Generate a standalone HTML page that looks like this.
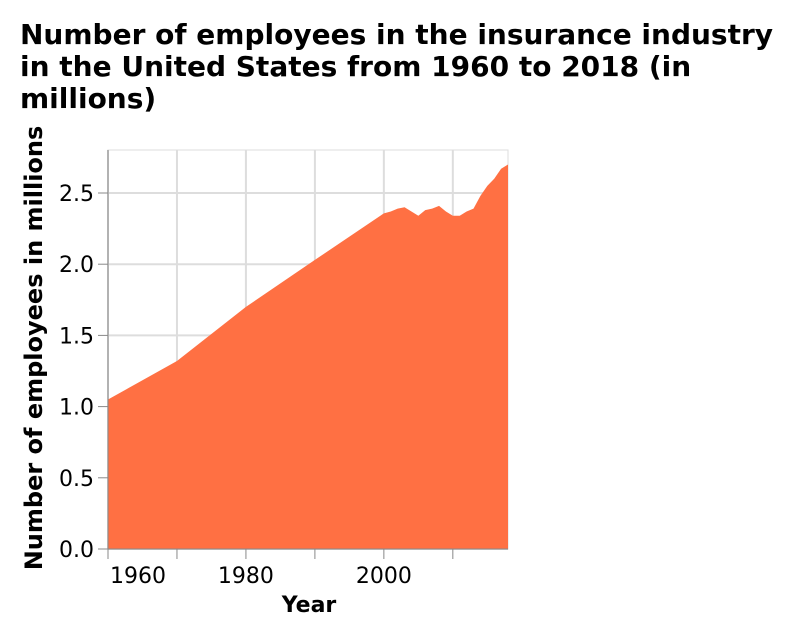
<!DOCTYPE html>
<html><head><meta charset="utf-8"><style>
body{margin:0;background:#fff;font-family:"DejaVu Sans",sans-serif}
</style></head><body>
<svg width="792" height="636" xmlns="http://www.w3.org/2000/svg" font-family="DejaVu Sans, sans-serif">
<text font-size="28" font-weight="bold" fill="#000">
<tspan x="20" y="44">Number of employees in the insurance industry</tspan>
<tspan x="20" y="76">in the United States from 1960 to 2018 (in</tspan>
<tspan x="20" y="108">millions)</tspan></text>
<g id="grid"></g>
<path id="area" fill="#ff7043"/>
<g id="axes"></g>
<text x="309" y="612" font-size="22" font-weight="bold" text-anchor="middle">Year</text>
<text transform="translate(42,348) rotate(-90)" font-size="24" font-weight="bold" text-anchor="middle">Number of employees in millions</text>
</svg>
<script>
const years=[1960,1970,1980,1990,2000,2001,2002,2003,2004,2005,2006,2007,2008,2009,2010,2011,2012,2013,2014,2015,2016,2017,2018];
const values=[1.05,1.32,1.70,2.03,2.357,2.37,2.39,2.40,2.37,2.34,2.38,2.39,2.41,2.37,2.34,2.34,2.37,2.39,2.48,2.55,2.60,2.67,2.70];
const yTicks=[0,0.5,1.0,1.5,2.0,2.5];
const xGrid=[1960,1970,1980,1990,2000,2010];
const xLabels=[1960,1980,2000];
const L=108,R=508,T=150,B=549;
const x=v=>L+(v-1960)/58*(R-L);
const y=v=>B-v/2.5*(B-193);
const NS="http://www.w3.org/2000/svg";
const grid=document.getElementById('grid'),axes=document.getElementById('axes');
function mk(tag,attrs,parent){const e=document.createElementNS(NS,tag);for(const k in attrs)e.setAttribute(k,attrs[k]);parent.appendChild(e);return e;}
const bg=mk('rect',{x:L,y:T,width:R-L,height:B-T,fill:'none',stroke:'#ddd'},grid);


yTicks.forEach(v=>{
 const l=mk('line',{x1:L,x2:R,y1:y(v),y2:y(v),stroke:'#ddd','stroke-width':2},grid);
 
 
 const tk=mk('line',{x1:L-10,x2:L,y1:y(v),y2:y(v),stroke:'#888'},axes);
 
 
 const t=mk('text',{x:L-14,y:y(v)+8,'font-size':22,'text-anchor':'end'},axes);
 t.textContent=v.toFixed(1);
 
 
});
xGrid.forEach(v=>{
 const l=mk('line',{x1:x(v),x2:x(v),y1:T,y2:B,stroke:'#ddd','stroke-width':2},grid);
 
 
 const tk=mk('line',{x1:x(v),x2:x(v),y1:B,y2:B+10,stroke:'#888'},axes);
 
 
});
xLabels.forEach((v,i)=>{
 const t=mk('text',{x:x(v)+(i==0?2:0),y:B+34,'font-size':22,'text-anchor':i==0?'start':'middle'},axes);
 t.textContent=v;
 
 
});
let d='M'+x(years[0])+','+y(0);
years.forEach((yr,i)=>{d+=' L'+x(yr)+','+y(values[i]);});
d+=' L'+x(years[years.length-1])+','+y(0)+' Z';
document.getElementById('area').setAttribute('d',d);
const ax=mk('line',{x1:L,x2:R,y1:B,y2:B,stroke:'#888'},axes);


const ay=mk('line',{x1:L,x2:L,y1:T,y2:B,stroke:'#888'},axes);


</script>
</body></html>
